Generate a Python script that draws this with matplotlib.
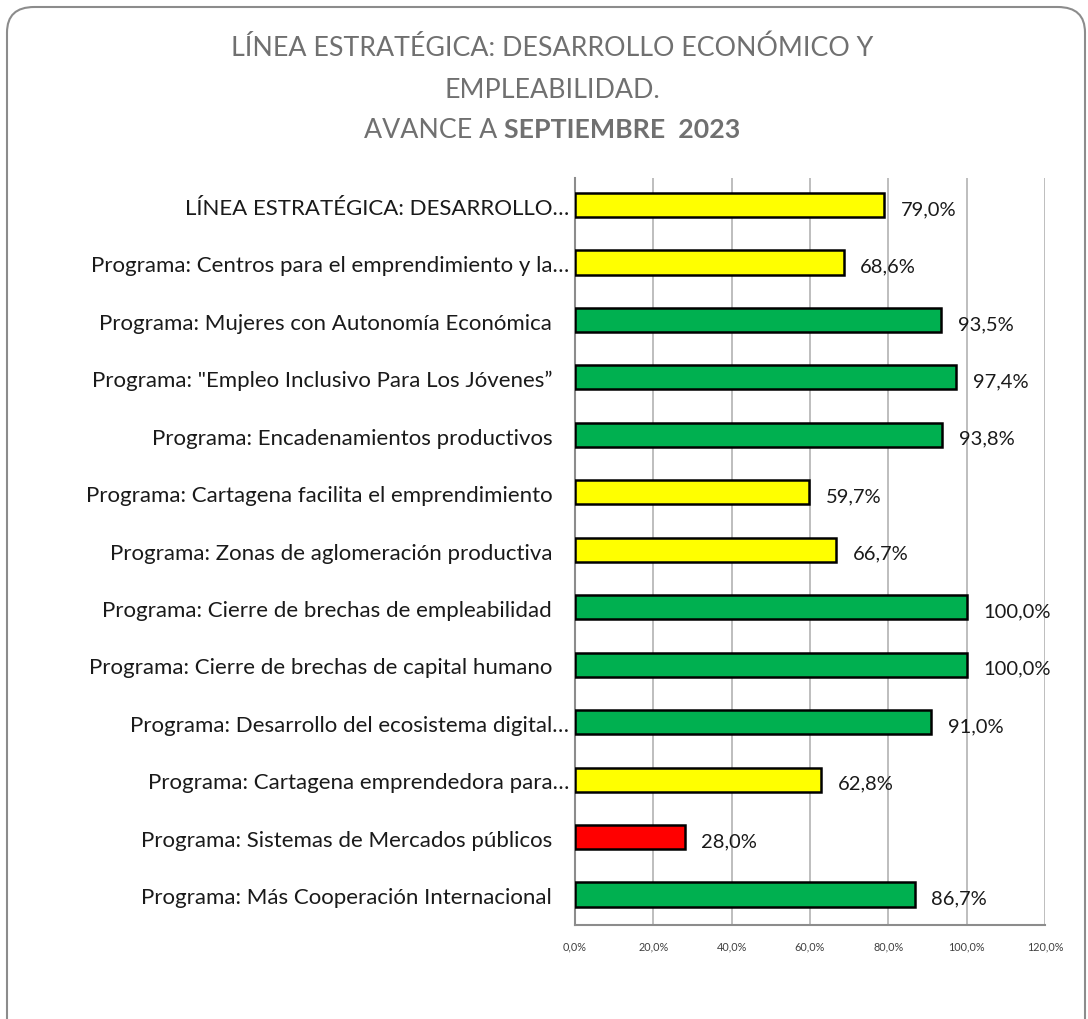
import matplotlib
matplotlib.use("Agg")
import matplotlib.pyplot as plt
from matplotlib.patches import FancyBboxPatch
import numpy as np

categories = [
    "LÍNEA ESTRATÉGICA: DESARROLLO…",
    "Programa: Centros para el emprendimiento y la…",
    "Programa: Mujeres con Autonomía Económica   ",
    "Programa: \"Empleo Inclusivo Para Los Jóvenes”   ",
    "Programa: Encadenamientos productivos   ",
    "Programa: Cartagena facilita el emprendimiento   ",
    "Programa: Zonas de aglomeración productiva   ",
    "Programa: Cierre de brechas de empleabilidad   ",
    "Programa: Cierre de brechas de capital humano   ",
    "Programa: Desarrollo del ecosistema digital…",
    "Programa: Cartagena emprendedora para…",
    "Programa: Sistemas de Mercados públicos   ",
    "Programa: Más Cooperación Internacional   ",
]
values = [79.0, 68.6, 93.5, 97.4, 93.8, 59.7, 66.7, 100.0, 100.0, 91.0, 62.8, 28.0, 86.7]
bar_colors = ["#FFFF00", "#FFFF00", "#00B050", "#00B050", "#00B050", "#FFFF00", "#FFFF00",
              "#00B050", "#00B050", "#00B050", "#FFFF00", "#FF0000", "#00B050"]
xticks = [0, 20, 40, 60, 80, 100, 120]

FONT = ["Lato", "DejaVu Sans"]
plt.rcParams['font.family'] = FONT

W, H = 1088, 1019
fig = plt.figure(figsize=(W / 100, H / 100), dpi=100)

# rounded frame
frame = FancyBboxPatch((7 / W, -30 / H), (1085 - 7) / W, (H + 30 - 7) / H,
                       boxstyle="round,pad=0,rounding_size=0.025",
                       transform=fig.transFigure, facecolor="white",
                       edgecolor="#8C8C8C", linewidth=1.5, zorder=-5, clip_on=False)
fig.patches.append(frame)

ax = fig.add_axes([575 / W, 1 - 925 / H, 470 / W, (925 - 178) / H])
ax.set_zorder(2)
ax.set_facecolor("none")
y = np.arange(len(categories))
ax.barh(y - 0.03, values, height=0.42, color=bar_colors, edgecolor="black", linewidth=1.8, zorder=3)
ax.set_xlim(0, 120)
ax.set_ylim(len(categories) - 0.5, -0.5)
ax.set_xticks(xticks)
ax.set_xticklabels([f"{t:.1f}%".replace(".", ",") for t in xticks], fontsize=7.8, color="#404040")
ax.set_yticks(y)
ax.set_yticklabels(categories, fontsize=16, color="#1a1a1a")
ax.tick_params(axis="both", length=0)
ax.tick_params(axis="y", pad=4)
ax.tick_params(axis="x", pad=12)
ax.grid(axis="x", color="#B3B3B3", linewidth=1.2, zorder=0)
for s in ["top", "right"]:
    ax.spines[s].set_visible(False)
for s in ["left", "bottom"]:
    ax.spines[s].set_color("#8C8C8C")
    ax.spines[s].set_linewidth(1.5)

for yi, v in zip(y, values):
    ax.annotate(f"{v:.1f}%".replace(".", ","), (v, yi), xytext=(12, -2),
                textcoords="offset points", va="center", ha="left",
                fontsize=14.5, color="#1a1a1a", zorder=4)

title_color = "#707070"
TS = 19.3
XC = 552 / W
fig.text(XC, 1 - 48 / H, "LÍNEA ESTRATÉGICA: DESARROLLO ECONÓMICO Y", ha="center", va="center",
         fontsize=TS, color=title_color, fontweight="normal", zorder=3)
fig.text(XC, 1 - 90 / H, "EMPLEABILIDAD.", ha="center", va="center",
         fontsize=TS, color=title_color, fontweight="normal", zorder=3)

fig.canvas.draw()
r = fig.canvas.get_renderer()
t1 = fig.text(0, 1 - 130 / H, "AVANCE A ", ha="left", va="center",
              fontsize=TS, color=title_color, fontweight="normal", zorder=3)
t2 = fig.text(0, 1 - 130 / H, "SEPTIEMBRE  2023", ha="left", va="center",
              fontsize=TS, color=title_color, fontweight="bold", zorder=3)
w1 = t1.get_window_extent(r).width
w2 = t2.get_window_extent(r).width
x0 = XC * W - (w1 + w2) / 2
t1.set_x(x0 / W)
t2.set_x((x0 + w1) / W)

fig.savefig("out.png", dpi=100, facecolor="white")
